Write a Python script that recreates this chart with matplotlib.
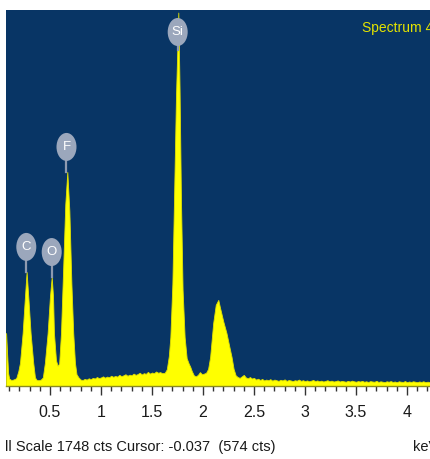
import matplotlib.pyplot as plt
from matplotlib.patches import Ellipse
from matplotlib.ticker import MultipleLocator

plt.rcParams['font.family'] = ['Liberation Sans', 'DejaVu Sans']

# EDS spectrum (keV, counts)
energy = [0.07, 0.08, 0.09, 0.10, 0.12, 0.14, 0.16, 0.17, 0.19, 0.206, 0.232, 0.255, 0.271,
          0.29, 0.31, 0.336, 0.353, 0.37, 0.39, 0.41, 0.43, 0.45, 0.477, 0.50, 0.517,
          0.53, 0.539, 0.559, 0.575, 0.59, 0.608, 0.63, 0.65, 0.67, 0.69, 0.71, 0.728,
          0.745, 0.76, 0.78, 0.80, 0.82, 0.84, 0.86, 0.88, 0.90, 0.92, 0.94, 0.96, 0.98,
          1.00, 1.02, 1.04, 1.06, 1.08, 1.10, 1.12, 1.14, 1.16, 1.18, 1.20, 1.22, 1.24,
          1.26, 1.28, 1.30, 1.32, 1.34, 1.36, 1.38, 1.40, 1.42, 1.44, 1.46, 1.48, 1.50,
          1.52, 1.54, 1.56, 1.58, 1.60, 1.625, 1.645, 1.665, 1.68, 1.70, 1.716, 1.735,
          1.758, 1.77, 1.784, 1.80, 1.82, 1.84, 1.86, 1.875, 1.89, 1.91, 1.93, 1.95,
          1.97, 1.99, 2.01, 2.03, 2.05, 2.07, 2.10, 2.125, 2.15, 2.165, 2.18, 2.20, 2.23,
          2.26, 2.28, 2.30, 2.32, 2.34, 2.36, 2.38, 2.40, 2.42, 2.44, 2.46, 2.48, 2.50,
          2.52, 2.54, 2.56, 2.58, 2.60, 2.62, 2.64, 2.66, 2.68, 2.70, 2.72, 2.74, 2.76,
          2.78, 2.80, 2.82, 2.84, 2.86, 2.88, 2.90, 2.92, 2.94, 2.96, 2.98, 3.00, 3.02,
          3.04, 3.06, 3.08, 3.10, 3.12, 3.14, 3.16, 3.18, 3.20, 3.22, 3.24, 3.26, 3.28,
          3.30, 3.32, 3.34, 3.36, 3.38, 3.40, 3.42, 3.44, 3.46, 3.48, 3.50, 3.52, 3.54,
          3.56, 3.58, 3.60, 3.62, 3.64, 3.66, 3.68, 3.70, 3.72, 3.74, 3.76, 3.78, 3.80,
          3.82, 3.84, 3.86, 3.88, 3.90, 3.92, 3.94, 3.96, 3.98, 4.00, 4.02, 4.04, 4.06,
          4.08, 4.10, 4.12, 4.14, 4.16, 4.18, 4.20, 4.22, 4.24]
counts = [248, 150, 60, 35, 28, 30, 34, 38, 70, 108, 248, 420, 534,
          400, 248, 108, 40, 28, 27, 30, 40, 108, 248, 420, 510,
          420, 248, 120, 95, 105, 248, 560, 850, 1002, 820, 480, 248,
          108, 55, 40, 30, 28, 33, 30, 36, 32, 38, 35, 42, 37,
          40, 45, 39, 44, 41, 48, 43, 47, 44, 52, 46, 50, 55,
          48, 53, 50, 58, 52, 56, 62, 54, 60, 57, 66, 58, 63,
          60, 68, 62, 65, 60, 62, 78, 140, 229, 480, 874, 1350,
          1748, 1400, 874, 450, 229, 130, 105, 90, 70, 50, 45, 52,
          65, 55, 58, 62, 80, 136, 295, 380, 403, 370, 340, 300, 248,
          180, 136, 80, 50, 42, 38, 45, 52, 40, 36, 42, 35, 38,
          30, 34, 28, 33, 26, 30, 27, 32, 25, 30, 27, 24, 29,
          26, 31, 24, 28, 26, 23, 27, 25, 30, 24, 27, 23, 26,
          22, 25, 28, 23, 26, 22, 25, 21, 24, 27, 22, 25, 21,
          23, 26, 21, 24, 22, 20, 24, 21, 25, 22, 20, 23, 21,
          24, 20, 22, 19, 23, 21, 20, 24, 19, 22, 20, 18, 22,
          20, 23, 19, 21, 18, 22, 20, 19, 23, 18, 21, 19, 22,
          20, 18, 21, 19, 22, 18, 20, 19, 21]

peak_names = ['C', 'O', 'F', 'Si']
peak_energy = [0.268, 0.517, 0.662, 1.752]
peak_counts = [534, 510, 1002, 1748]

xtick_vals = [0.5, 1, 1.5, 2, 2.5, 3, 3.5, 4]
xtick_labels = ['0.5', '1', '1.5', '2', '2.5', '3', '3.5', '4']
status_text = 'll Scale 1748 cts Cursor: -0.037  (574 cts)'

W, H = 431, 459
fig = plt.figure(figsize=(W / 100, H / 100), dpi=100)
ax = fig.add_axes([6 / W, (H - 386) / H, (W - 6) / W, (386 - 10) / H])
ax.set_facecolor('#083565')
ax.fill_between(energy, counts, color='#ffff00', edgecolor='#e0e000', lw=0.6, zorder=2)
ax.set_xlim(0.069, 4.235)
ax.set_ylim(0, 1760)

for s in ['left', 'right', 'top']:
    ax.spines[s].set_visible(False)
ax.spines['bottom'].set_color('#8a8a20')
ax.spines['bottom'].set_linewidth(1.0)

ax.set_yticks([])
ax.set_xticks(xtick_vals, xtick_labels)
ax.xaxis.set_minor_locator(MultipleLocator(0.1))
ax.tick_params(axis='x', which='major', length=6.5, width=1, color='#333333',
               pad=7, labelsize=11.5, labelcolor='#1a1a1a')
ax.tick_params(axis='x', which='minor', length=3.8, width=1, color='#333333')

# element markers
px_y = 1760 / 376
for name, e, c in zip(peak_names, peak_energy, peak_counts):
    yc = min(c + 25 * px_y, (386 - 32) * px_y)
    y_end = c if c < yc else yc - 18 * px_y
    ax.plot([e, e], [yc, y_end], color='#8e9ab0', lw=1.6, zorder=3)
    ax.add_patch(Ellipse((e, yc), 20 / 102, 28 * px_y, facecolor='#9ba7bc',
                         edgecolor='none', zorder=4))
    ax.text(e, yc, name, color='white', fontsize=9.5, ha='center', va='center', zorder=5)

fig.text(362 / W, 1 - 28 / H, 'Spectrum 4', color='#e3e300', fontsize=10,
         ha='left', va='center')
fig.text(5 / W, 1 - 447 / H, status_text, color='#1a1a1a', fontsize=10.5,
         ha='left', va='center')
fig.text(413 / W, 1 - 447 / H, 'keV', color='#1a1a1a', fontsize=10.5,
         ha='left', va='center')

fig.savefig('out.png', dpi=100)
